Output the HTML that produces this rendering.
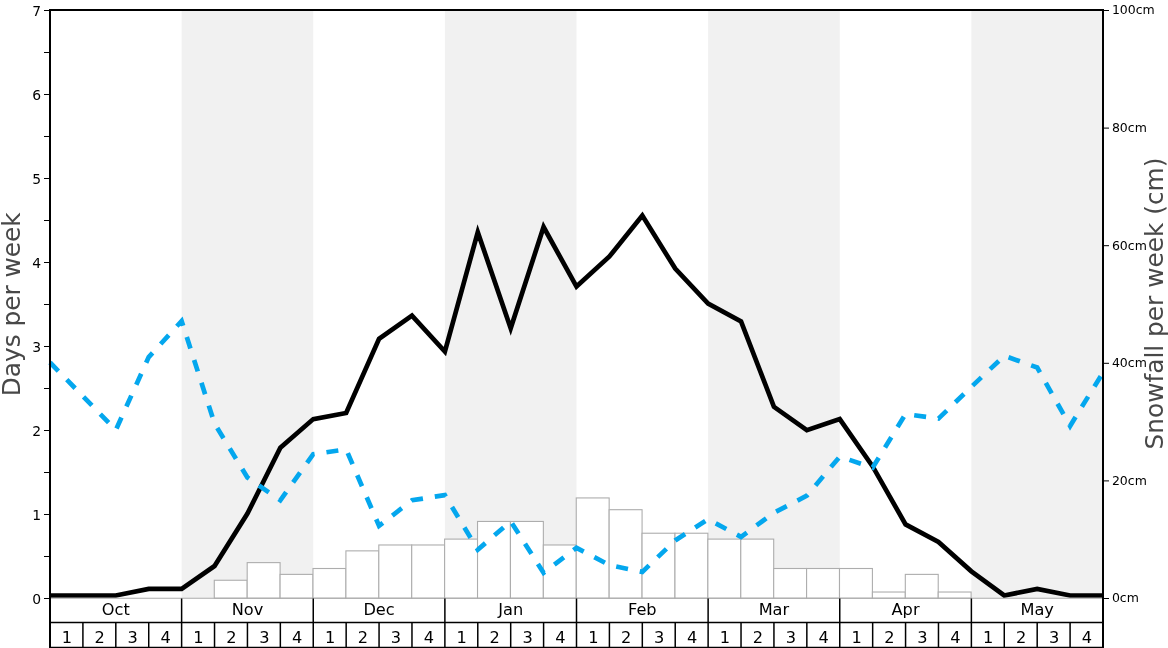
<!DOCTYPE html>
<html lang="en">
<head>
<meta charset="utf-8">
<title>Snowfall chart</title>
<style>
html,body{margin:0;padding:0;background:#fff;}
body{width:1168px;height:648px;overflow:hidden;}
svg{display:block;will-change:transform;}
text{font-family:"DejaVu Sans", "Liberation Sans", sans-serif;}
</style>
</head>
<body>
<svg width="1168" height="648" viewBox="0 0 1168 648">
<rect x="0" y="0" width="1168" height="648" fill="#ffffff"/>
<g fill="#f1f1f1">
<rect x="181.62" y="10" width="131.62" height="588.5"/>
<rect x="444.88" y="10" width="131.62" height="588.5"/>
<rect x="708.12" y="10" width="131.62" height="588.5"/>
<rect x="971.38" y="10" width="131.62" height="588.5"/>
</g>
<g fill="#ffffff" stroke="#adadad" stroke-width="1.1">
<rect x="214.28" y="580.26" width="32.91" height="17.94"/>
<rect x="247.19" y="562.62" width="32.91" height="35.58"/>
<rect x="280.09" y="574.38" width="32.91" height="23.82"/>
<rect x="313.00" y="568.50" width="32.91" height="29.70"/>
<rect x="345.91" y="550.86" width="32.91" height="47.34"/>
<rect x="378.81" y="544.98" width="32.91" height="53.22"/>
<rect x="411.72" y="544.98" width="32.91" height="53.22"/>
<rect x="444.62" y="539.10" width="32.91" height="59.10"/>
<rect x="477.53" y="521.46" width="32.91" height="76.74"/>
<rect x="510.44" y="521.46" width="32.91" height="76.74"/>
<rect x="543.34" y="544.98" width="32.91" height="53.22"/>
<rect x="576.25" y="497.94" width="32.91" height="100.26"/>
<rect x="609.16" y="509.70" width="32.91" height="88.50"/>
<rect x="642.06" y="533.22" width="32.91" height="64.98"/>
<rect x="674.97" y="533.22" width="32.91" height="64.98"/>
<rect x="707.88" y="539.10" width="32.91" height="59.10"/>
<rect x="740.78" y="539.10" width="32.91" height="59.10"/>
<rect x="773.69" y="568.50" width="32.91" height="29.70"/>
<rect x="806.59" y="568.50" width="32.91" height="29.70"/>
<rect x="839.50" y="568.50" width="32.91" height="29.70"/>
<rect x="872.41" y="592.02" width="32.91" height="6.18"/>
<rect x="905.31" y="574.38" width="32.91" height="23.82"/>
<rect x="938.22" y="592.02" width="32.91" height="6.18"/>
</g>
<polyline points="50.00,595.50 82.91,595.50 115.81,595.50 148.72,588.90 181.62,588.90 214.53,566.00 247.44,513.60 280.34,447.80 313.25,419.10 346.16,413.00 379.06,338.90 411.97,315.70 444.88,351.50 477.78,232.20 510.69,328.30 543.59,227.00 576.50,286.60 609.41,256.50 642.31,215.60 675.22,268.60 708.12,303.50 741.03,321.40 773.94,406.80 806.84,430.20 839.75,419.10 872.66,466.40 905.56,524.40 938.47,542.00 971.38,571.30 1004.28,595.50 1037.19,588.90 1070.09,595.50 1103.00,595.50" fill="none" stroke="#000000" stroke-width="4.7" stroke-linejoin="miter" stroke-miterlimit="10" stroke-linecap="butt"/>
<polyline points="50.00,362.50 82.91,396.20 115.81,430.00 148.72,357.10 181.62,321.00 214.53,423.50 247.44,477.50 280.34,500.30 313.25,454.20 346.16,449.40 379.06,525.90 411.97,500.30 444.88,495.10 477.78,549.70 510.69,521.30 543.59,572.80 576.50,547.80 609.41,565.10 642.31,571.90 675.22,540.40 708.12,519.20 741.03,536.90 773.94,512.70 806.84,495.70 839.75,456.60 872.66,467.60 905.56,414.00 938.47,418.60 971.38,386.80 1004.28,355.80 1037.19,367.50 1070.09,426.00 1103.00,372.50" fill="none" stroke="#04a7ee" stroke-width="4.7" stroke-dasharray="12 12" stroke-linejoin="miter" stroke-miterlimit="10" stroke-linecap="butt"/>
<rect x="50.00" y="599.10" width="1053.00" height="49.50" fill="#ffffff"/>
<line x1="50.00" y1="598.2" x2="1103.00" y2="598.2" stroke="#adadad" stroke-width="1.1"/>
<g stroke="#000000" stroke-width="1.5" fill="none">
<line x1="50.00" y1="622.6" x2="1103.00" y2="622.6"/>
<line x1="50.00" y1="647.4" x2="1103.00" y2="647.4"/>
<line x1="181.62" y1="598.50" x2="181.62" y2="622.6"/>
<line x1="313.25" y1="598.50" x2="313.25" y2="622.6"/>
<line x1="444.88" y1="598.50" x2="444.88" y2="622.6"/>
<line x1="576.50" y1="598.50" x2="576.50" y2="622.6"/>
<line x1="708.12" y1="598.50" x2="708.12" y2="622.6"/>
<line x1="839.75" y1="598.50" x2="839.75" y2="622.6"/>
<line x1="971.38" y1="598.50" x2="971.38" y2="622.6"/>
<line x1="82.91" y1="622.6" x2="82.91" y2="648"/>
<line x1="115.81" y1="622.6" x2="115.81" y2="648"/>
<line x1="148.72" y1="622.6" x2="148.72" y2="648"/>
<line x1="181.62" y1="622.6" x2="181.62" y2="648"/>
<line x1="214.53" y1="622.6" x2="214.53" y2="648"/>
<line x1="247.44" y1="622.6" x2="247.44" y2="648"/>
<line x1="280.34" y1="622.6" x2="280.34" y2="648"/>
<line x1="313.25" y1="622.6" x2="313.25" y2="648"/>
<line x1="346.16" y1="622.6" x2="346.16" y2="648"/>
<line x1="379.06" y1="622.6" x2="379.06" y2="648"/>
<line x1="411.97" y1="622.6" x2="411.97" y2="648"/>
<line x1="444.88" y1="622.6" x2="444.88" y2="648"/>
<line x1="477.78" y1="622.6" x2="477.78" y2="648"/>
<line x1="510.69" y1="622.6" x2="510.69" y2="648"/>
<line x1="543.59" y1="622.6" x2="543.59" y2="648"/>
<line x1="576.50" y1="622.6" x2="576.50" y2="648"/>
<line x1="609.41" y1="622.6" x2="609.41" y2="648"/>
<line x1="642.31" y1="622.6" x2="642.31" y2="648"/>
<line x1="675.22" y1="622.6" x2="675.22" y2="648"/>
<line x1="708.12" y1="622.6" x2="708.12" y2="648"/>
<line x1="741.03" y1="622.6" x2="741.03" y2="648"/>
<line x1="773.94" y1="622.6" x2="773.94" y2="648"/>
<line x1="806.84" y1="622.6" x2="806.84" y2="648"/>
<line x1="839.75" y1="622.6" x2="839.75" y2="648"/>
<line x1="872.66" y1="622.6" x2="872.66" y2="648"/>
<line x1="905.56" y1="622.6" x2="905.56" y2="648"/>
<line x1="938.47" y1="622.6" x2="938.47" y2="648"/>
<line x1="971.38" y1="622.6" x2="971.38" y2="648"/>
<line x1="1004.28" y1="622.6" x2="1004.28" y2="648"/>
<line x1="1037.19" y1="622.6" x2="1037.19" y2="648"/>
<line x1="1070.09" y1="622.6" x2="1070.09" y2="648"/>
</g>
<g stroke="#000000" stroke-width="2" fill="none" stroke-linecap="square">
<line x1="50.00" y1="10" x2="50.00" y2="648"/>
<line x1="1103.00" y1="10" x2="1103.00" y2="648"/>
<line x1="50.00" y1="10" x2="1103.00" y2="10"/>
</g>
<g stroke="#000000" stroke-width="1" fill="none">
<line x1="44" y1="598.50" x2="49" y2="598.50"/>
<line x1="44" y1="556.50" x2="49" y2="556.50"/>
<line x1="44" y1="514.50" x2="49" y2="514.50"/>
<line x1="44" y1="472.50" x2="49" y2="472.50"/>
<line x1="44" y1="430.50" x2="49" y2="430.50"/>
<line x1="44" y1="388.50" x2="49" y2="388.50"/>
<line x1="44" y1="346.50" x2="49" y2="346.50"/>
<line x1="44" y1="304.50" x2="49" y2="304.50"/>
<line x1="44" y1="262.50" x2="49" y2="262.50"/>
<line x1="44" y1="220.50" x2="49" y2="220.50"/>
<line x1="44" y1="178.50" x2="49" y2="178.50"/>
<line x1="44" y1="136.50" x2="49" y2="136.50"/>
<line x1="44" y1="94.50" x2="49" y2="94.50"/>
<line x1="44" y1="52.50" x2="49" y2="52.50"/>
<line x1="44" y1="10.50" x2="49" y2="10.50"/>
<line x1="1104" y1="598.50" x2="1109" y2="598.50"/>
<line x1="1104" y1="480.90" x2="1109" y2="480.90"/>
<line x1="1104" y1="363.30" x2="1109" y2="363.30"/>
<line x1="1104" y1="245.70" x2="1109" y2="245.70"/>
<line x1="1104" y1="128.10" x2="1109" y2="128.10"/>
<line x1="1104" y1="10.50" x2="1109" y2="10.50"/>
</g>
<g fill="#000000" font-size="13.9px" text-anchor="end">
<text x="41" y="603.50">0</text>
<text x="41" y="519.50">1</text>
<text x="41" y="435.50">2</text>
<text x="41" y="351.50">3</text>
<text x="41" y="267.50">4</text>
<text x="41" y="183.50">5</text>
<text x="41" y="99.50">6</text>
<text x="41" y="15.50">7</text>
</g>
<g fill="#000000" font-size="12.5px" text-anchor="start">
<text x="1111.9" y="602">0cm</text>
<text x="1111.9" y="485">20cm</text>
<text x="1111.9" y="367">40cm</text>
<text x="1111.9" y="250">60cm</text>
<text x="1111.9" y="132">80cm</text>
<text x="1111.9" y="14">100cm</text>
</g>
<g fill="#000000" font-size="16.2px" text-anchor="middle">
<text x="115.81" y="615">Oct</text>
<text x="247.44" y="615">Nov</text>
<text x="379.06" y="615">Dec</text>
<text x="510.69" y="615">Jan</text>
<text x="642.31" y="615">Feb</text>
<text x="773.94" y="615">Mar</text>
<text x="905.56" y="615">Apr</text>
<text x="1037.19" y="615">May</text>
<text x="66.85" y="642.8">1</text>
<text x="99.76" y="642.8">2</text>
<text x="132.67" y="642.8">3</text>
<text x="165.57" y="642.8">4</text>
<text x="198.48" y="642.8">1</text>
<text x="231.38" y="642.8">2</text>
<text x="264.29" y="642.8">3</text>
<text x="297.20" y="642.8">4</text>
<text x="330.10" y="642.8">1</text>
<text x="363.01" y="642.8">2</text>
<text x="395.92" y="642.8">3</text>
<text x="428.82" y="642.8">4</text>
<text x="461.73" y="642.8">1</text>
<text x="494.63" y="642.8">2</text>
<text x="527.54" y="642.8">3</text>
<text x="560.45" y="642.8">4</text>
<text x="593.35" y="642.8">1</text>
<text x="626.26" y="642.8">2</text>
<text x="659.17" y="642.8">3</text>
<text x="692.07" y="642.8">4</text>
<text x="724.98" y="642.8">1</text>
<text x="757.88" y="642.8">2</text>
<text x="790.79" y="642.8">3</text>
<text x="823.70" y="642.8">4</text>
<text x="856.60" y="642.8">1</text>
<text x="889.51" y="642.8">2</text>
<text x="922.42" y="642.8">3</text>
<text x="955.32" y="642.8">4</text>
<text x="988.23" y="642.8">1</text>
<text x="1021.13" y="642.8">2</text>
<text x="1054.04" y="642.8">3</text>
<text x="1086.95" y="642.8">4</text>
</g>
<g fill="#484848" font-size="24.8px" text-anchor="middle">
<text transform="translate(20,304.3) rotate(-90)">Days per week</text>
<text transform="translate(1163.2,303.5) rotate(-90)">Snowfall per week (cm)</text>
</g>
</svg>
</body>
</html>
